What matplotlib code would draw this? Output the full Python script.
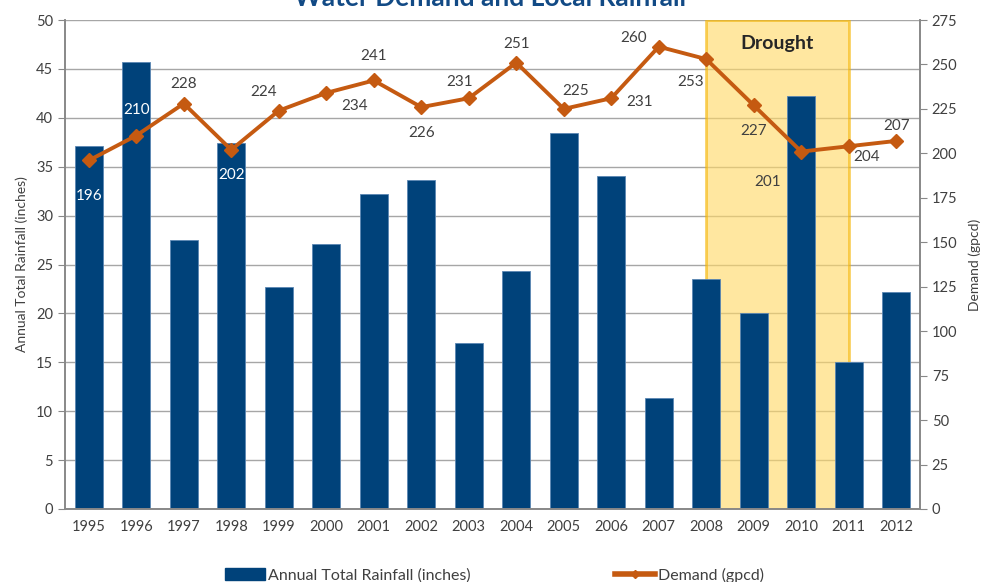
import matplotlib
matplotlib.use('Agg')
import matplotlib.pyplot as plt
from matplotlib.patches import Rectangle
from matplotlib.lines import Line2D
from matplotlib.patches import Patch
import numpy as np

plt.rcParams['font.family'] = ['Lato', 'DejaVu Sans']

years = ['1995', '1996', '1997', '1998', '1999', '2000', '2001', '2002', '2003',
         '2004', '2005', '2006', '2007', '2008', '2009', '2010', '2011', '2012']
rainfall = [37.1, 45.7, 27.5, 37.4, 22.7, 27.1, 32.2, 33.6, 17.0,
            24.3, 38.4, 34.0, 11.4, 23.5, 20.0, 42.2, 15.0, 22.2]
demand = [196, 210, 228, 202, 224, 234, 241, 226, 231,
          251, 225, 231, 260, 253, 227, 201, 204, 207]

# label offsets in pixels (dx, dy) relative to each point
lbl_off = [(0, -36), (0, 26), (0, 20), (0, -25), (-15, 19), (28, -13),
           (0, 24), (0, -26), (-9, 16), (0, 19), (12, 18), (28, -4),
           (-25, 9), (-16, -23), (0, -26), (-34, -30), (18, -11), (0, 15)]
white_lbl = [0, 1, 3]

blue = '#00427a'
orange = '#c55a11'
txt = '#404040'
grid = '#a6a6a6'

x = np.arange(len(years))

fig = plt.figure(figsize=(9.85, 5.82), dpi=100)
ax1 = fig.add_axes([65/985, 73/582, 855/985, 489/582])
ax2 = ax1.twinx()

ax1.set_axisbelow(True)
ax1.yaxis.grid(True, color=grid, lw=1, zorder=0)

# drought period
ax1.add_patch(Rectangle((13, 0), 3, 50, facecolor='#ffd966', edgecolor='#f5b400',
                        lw=2, alpha=0.62, zorder=1))
ax1.text(14.5, 47.6, 'Drought', ha='center', va='center', fontsize=14,
         fontweight='bold', color='#262626', zorder=3)

ax1.bar(x, rainfall, width=0.59, color=blue, edgecolor='#5a86b3', lw=0.6, zorder=2)

ax1.set_xlim(-0.5, len(years) - 0.5)
ax1.set_ylim(0, 50)
ax1.set_yticks(np.arange(0, 51, 5))
ax1.set_xticks(x)
ax1.set_xticklabels(years)
ax1.tick_params(axis='x', length=0, pad=8, labelsize=10.5, labelcolor=txt)
ax1.tick_params(axis='y', length=5, color='#888888', labelsize=10.5, labelcolor=txt)
ax1.set_ylabel('Annual Total Rainfall (inches)', fontsize=10, color=txt, labelpad=6)

ax2.plot(x, demand, color=orange, lw=2.8, marker='D', markersize=7, zorder=4)
ax2.set_ylim(0, 275)
ax2.set_yticks(np.arange(0, 276, 25))
ax2.tick_params(axis='y', length=5, color='#888888', labelsize=10.5, labelcolor=txt)
ax2.set_ylabel('Demand (gpcd)', fontsize=10, color=txt, labelpad=8)

for i, v in enumerate(demand):
    dx, dy = lbl_off[i]
    c = 'white' if i in white_lbl else txt
    ax2.annotate(str(v), (x[i], v), xytext=(dx, dy), textcoords='offset pixels',
                 ha='center', va='center', fontsize=11, color=c, zorder=5)

for ax in (ax1, ax2):
    for s in ax.spines.values():
        s.set_color('#888888')
        s.set_linewidth(1.2)
    ax.spines['top'].set_visible(False)

fig.text(0.497, 1 - 6/582, 'Water Demand and Local Rainfall', ha='center',
         va='baseline', fontsize=19, fontweight='bold', color='#124a85')

handles = [Patch(facecolor=blue, edgecolor=blue),
           Line2D([], [], color=orange, lw=4, marker='D', markersize=4)]
fig.legend(handles, ['Annual Total Rainfall (inches)', 'Demand (gpcd)'],
           loc='center', bbox_to_anchor=(0.502, 1 - 575/582), ncol=2, frameon=False,
           fontsize=11.5, columnspacing=9, handlelength=2.5, handletextpad=0.2,
           labelcolor=txt)

fig.savefig('out.png', dpi=100)
